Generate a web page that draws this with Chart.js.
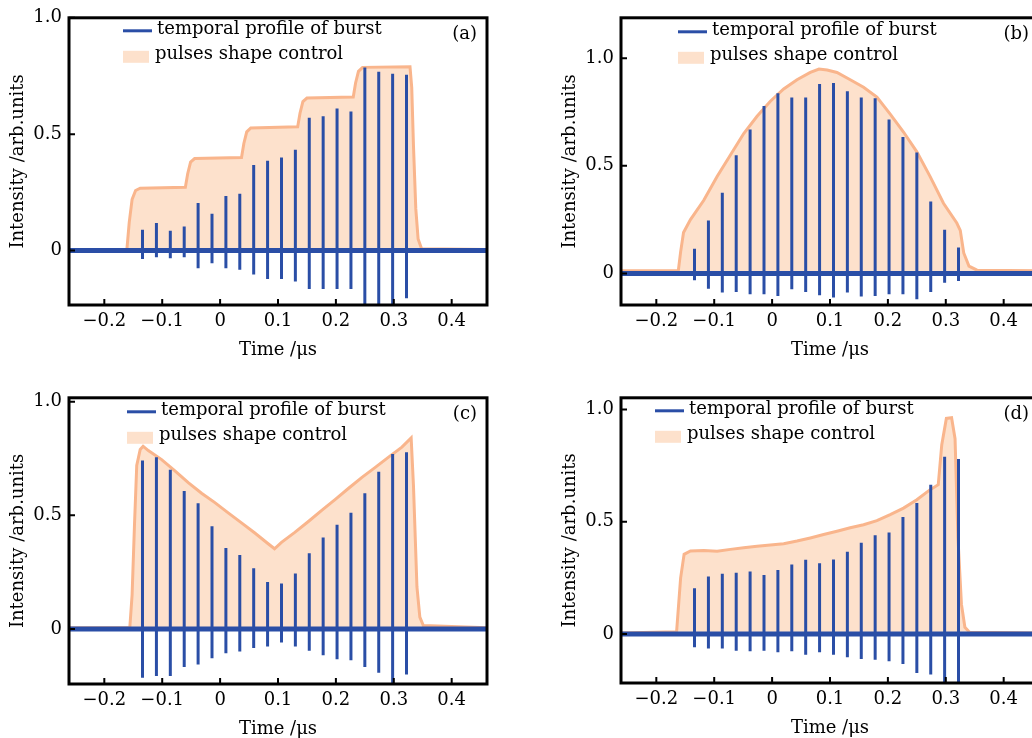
<!DOCTYPE html>
<html>
<head>
<meta charset="utf-8">
<script src="https://cdn.jsdelivr.net/npm/chart.js@4.4.1/dist/chart.umd.min.js"></script>
<style>
  html, body { margin: 0; padding: 0; background: #fff; overflow: hidden; width: 1032px; height: 738px; }
  .panel { position: absolute; }
</style>
</head>
<body>
<div class="panel" id="wrapA"><canvas id="chartA"></canvas></div>
<div class="panel" id="wrapB"><canvas id="chartB"></canvas></div>
<div class="panel" id="wrapC"><canvas id="chartC"></canvas></div>
<div class="panel" id="wrapD"><canvas id="chartD"></canvas></div>
<script>
// pulse arrival times in the burst (µs), same for all four panels
const pulseTimes = [-0.134, -0.110, -0.086, -0.062, -0.038, -0.014, 0.010, 0.034, 0.058, 0.082,
                    0.106, 0.130, 0.154, 0.178, 0.202, 0.226, 0.250, 0.274, 0.298, 0.322];

const xTicks = [-0.2, -0.1, 0, 0.1, 0.2, 0.3, 0.4];
const yTicks = [0, 0.5, 1.0];
const xMin = -0.261, xMax = 0.461;

// (a) staircase
const peaksA = [0.089, 0.118, 0.085, 0.103, 0.204, 0.158, 0.234, 0.244, 0.367, 0.386,
                0.400, 0.433, 0.571, 0.577, 0.610, 0.597, 0.786, 0.768, 0.760, 0.755];
const dipsA = [-0.036, -0.029, -0.033, -0.029, -0.076, -0.055, -0.076, -0.083, -0.103, -0.122,
               -0.122, -0.133, -0.165, -0.165, -0.165, -0.165, -0.235, -0.235, -0.240, -0.205];
const envTimeA = [-0.261, -0.161, -0.157, -0.152, -0.146, -0.138, -0.060, -0.056, -0.051, -0.044,
                  0.037, 0.041, 0.046, 0.053, 0.134, 0.138, 0.143, 0.150, 0.230, 0.234,
                  0.239, 0.246, 0.328, 0.331, 0.334, 0.338, 0.342, 0.348, 0.461];
const envLevelA = [0.005, 0.005, 0.12, 0.22, 0.258, 0.268, 0.272, 0.33, 0.38, 0.395,
                   0.40, 0.46, 0.51, 0.527, 0.532, 0.59, 0.64, 0.655, 0.66, 0.72,
                   0.77, 0.787, 0.79, 0.70, 0.45, 0.18, 0.05, 0.008, 0.005];

// (b) dome
const peaksB = [0.114, 0.246, 0.375, 0.549, 0.669, 0.778, 0.837, 0.818, 0.818, 0.880,
                0.885, 0.846, 0.818, 0.814, 0.715, 0.634, 0.562, 0.334, 0.203, 0.120];
const dipsB = [-0.032, -0.071, -0.089, -0.086, -0.097, -0.097, -0.105, -0.074, -0.086, -0.102,
               -0.112, -0.089, -0.108, -0.105, -0.097, -0.097, -0.120, -0.086, -0.043, -0.035];
const envTimeB = [-0.261, -0.162, -0.158, -0.153, -0.141, -0.118, -0.095, -0.072, -0.049, -0.026,
                  -0.003, 0.020, 0.043, 0.066, 0.081, 0.095, 0.112, 0.135, 0.158, 0.181,
                  0.204, 0.227, 0.250, 0.273, 0.296, 0.319, 0.325, 0.331, 0.340, 0.354, 0.461];
const envLevelB = [0.012, 0.012, 0.10, 0.19, 0.25, 0.34, 0.45, 0.55, 0.65, 0.73,
                   0.80, 0.857, 0.90, 0.934, 0.95, 0.945, 0.934, 0.90, 0.865, 0.82,
                   0.74, 0.657, 0.565, 0.45, 0.326, 0.234, 0.20, 0.095, 0.034, 0.015, 0.012];

// (c) V shape
const peaksC = [0.741, 0.756, 0.701, 0.607, 0.553, 0.452, 0.356, 0.326, 0.267, 0.207,
                0.200, 0.244, 0.333, 0.403, 0.458, 0.511, 0.597, 0.692, 0.770, 0.778];
const dipsC = [-0.215, -0.207, -0.207, -0.167, -0.156, -0.129, -0.107, -0.099, -0.084, -0.077,
               -0.059, -0.077, -0.096, -0.116, -0.133, -0.138, -0.167, -0.193, -0.245, -0.200];
const envTimeC = [-0.261, -0.156, -0.152, -0.148, -0.144, -0.138, -0.133, -0.124, -0.101, -0.078,
                  -0.055, -0.032, -0.009, 0.014, 0.037, 0.060, 0.083, 0.094, 0.106, 0.129,
                  0.153, 0.176, 0.199, 0.222, 0.245, 0.268, 0.291, 0.314, 0.330, 0.334,
                  0.340, 0.345, 0.351, 0.461];
const envLevelC = [0.005, 0.005, 0.15, 0.45, 0.72, 0.79, 0.804, 0.785, 0.745, 0.696,
                   0.644, 0.597, 0.556, 0.511, 0.467, 0.422, 0.375, 0.353, 0.381, 0.425,
                   0.474, 0.523, 0.570, 0.619, 0.667, 0.711, 0.756, 0.80, 0.84, 0.63,
                   0.185, 0.052, 0.015, 0.005];

// (d) rising ramp with final spike
const peaksD = [0.204, 0.256, 0.269, 0.273, 0.278, 0.263, 0.285, 0.310, 0.331, 0.315,
                0.332, 0.366, 0.406, 0.440, 0.452, 0.521, 0.583, 0.665, 0.790, 0.780];
const dipsD = [-0.059, -0.064, -0.064, -0.074, -0.077, -0.074, -0.081, -0.077, -0.092, -0.081,
               -0.092, -0.103, -0.111, -0.115, -0.121, -0.133, -0.174, -0.180, -0.225, -0.225];
const envTimeD = [-0.261, -0.165, -0.158, -0.152, -0.141, -0.118, -0.095, -0.072, -0.049, -0.026,
                  -0.003, 0.020, 0.043, 0.066, 0.089, 0.112, 0.135, 0.158, 0.181, 0.204,
                  0.227, 0.250, 0.273, 0.287, 0.293, 0.301, 0.310, 0.316, 0.321, 0.327,
                  0.333, 0.341, 0.461];
const envLevelD = [0.005, 0.01, 0.25, 0.355, 0.37, 0.372, 0.369, 0.377, 0.384, 0.391,
                   0.396, 0.402, 0.414, 0.428, 0.443, 0.458, 0.473, 0.487, 0.505, 0.532,
                   0.561, 0.598, 0.643, 0.665, 0.842, 0.96, 0.963, 0.87, 0.428, 0.133,
                   0.03, 0.008, 0.005];

const blue = '#2A4EA6';
const peachLine = '#F9B58C';
const peachFill = '#FDE1CC';

Chart.defaults.font.family = '"DejaVu Serif", serif';
Chart.defaults.font.size = 18;
Chart.defaults.color = '#000';

function burstPoints(peaks, dips) {
    const pts = [{ x: xMin, y: 0 }];
    pulseTimes.forEach((t, i) => {
        pts.push({ x: t, y: 0 }, { x: t, y: peaks[i] }, { x: t, y: dips[i] }, { x: t, y: 0 });
    });
    pts.push({ x: xMax, y: 0 });
    return pts;
}

function tickText(v) {
    if (v === 0) return '0';
    return v.toFixed(1).replace('-', '\u2212');
}

const framePlugin = {
    id: 'frame',
    afterDraw(chart, args, opts) {
        const { ctx, chartArea: a, scales: { x, y } } = chart;
        ctx.save();
        ctx.strokeStyle = '#000';
        ctx.lineWidth = 2;
        ctx.beginPath();
        xTicks.forEach(v => {
            const px = x.getPixelForValue(v);
            ctx.moveTo(px, a.bottom);
            ctx.lineTo(px, a.bottom - 6);
        });
        yTicks.forEach(v => {
            const py = y.getPixelForValue(v);
            ctx.moveTo(a.left, py);
            ctx.lineTo(a.left + 6, py);
        });
        ctx.stroke();
        ctx.lineWidth = 3;
        ctx.strokeRect(a.left, a.top, a.right - a.left, a.bottom - a.top);

        // legend inside the plot
        const ds = chart.data.datasets;
        const lx = a.left + opts.dx, ly = a.top + opts.dy;
        ctx.font = '18px "DejaVu Serif"';
        ctx.textBaseline = 'middle';
        ctx.strokeStyle = blue;
        ctx.lineWidth = 3;
        ctx.beginPath();
        ctx.moveTo(lx, ly);
        ctx.lineTo(lx + 29, ly);
        ctx.stroke();
        ctx.fillStyle = '#000';
        ctx.fillText(ds[0].label, lx + 34, ly - 1);
        ctx.fillStyle = peachFill;
        ctx.fillRect(lx, ly + 20, 26, 12);
        ctx.fillStyle = '#000';
        ctx.fillText(ds[2].label, lx + 32, ly + 24);
        ctx.textAlign = 'right';
        ctx.fillText(opts.tag, a.right - 10, a.top + 17);
        ctx.restore();
    }
};

const panels = [
    { id: 'A', tag: '(a)', area: [69, 16, 418, 289], yMin: -0.234, yMax: 1.0, peaks: peaksA, dips: dipsA, envT: envTimeA, envV: envLevelA, dx: 54, dy: 13 },
    { id: 'B', tag: '(b)', area: [621, 16, 418, 289], yMin: -0.147, yMax: 1.188, peaks: peaksB, dips: dipsB, envT: envTimeB, envV: envLevelB, dx: 57, dy: 14 },
    { id: 'C', tag: '(c)', area: [69, 396, 418, 288], yMin: -0.242, yMax: 1.017, peaks: peaksC, dips: dipsC, envT: envTimeC, envV: envLevelC, dx: 58, dy: 14 },
    { id: 'D', tag: '(d)', area: [621, 396, 418, 287], yMin: -0.218, yMax: 1.052, peaks: peaksD, dips: dipsD, envT: envTimeD, envV: envLevelD, dx: 34, dy: 13 }
];

const yAxisW = 64, xAxisH = 64, padTop = 16, padRight = 10;

panels.forEach(p => {
    const [L, T, W, H] = p.area;
    const wrap = document.getElementById('wrap' + p.id);
    const cw = W + yAxisW + padRight, ch = H + padTop + xAxisH;
    wrap.style.left = (L - yAxisW) + 'px';
    wrap.style.top = (T - padTop) + 'px';
    const canvas = document.getElementById('chart' + p.id);
    canvas.width = cw;
    canvas.height = ch;
    canvas.style.width = cw + 'px';
    canvas.style.height = ch + 'px';

    new Chart(canvas, {
        type: 'line',
        data: {
            datasets: [
                {
                    label: 'temporal profile of burst',
                    data: burstPoints(p.peaks, p.dips),
                    borderColor: blue,
                    borderWidth: 3,
                    pointRadius: 0,
                    fill: false
                },
                {
                    label: 'baseline',
                    data: [{ x: xMin, y: 0 }, { x: xMax, y: 0 }],
                    borderColor: blue,
                    borderWidth: 5,
                    pointRadius: 0,
                    fill: false
                },
                {
                    label: 'pulses shape control',
                    data: p.envT.map((t, i) => ({ x: t, y: p.envV[i] })),
                    borderColor: peachLine,
                    backgroundColor: peachFill,
                    borderWidth: 3,
                    pointRadius: 0,
                    fill: 'origin'
                }
            ]
        },
        plugins: [framePlugin],
        options: {
            responsive: false,
            animation: false,
            events: [],
            layout: { padding: { top: padTop, right: padRight, left: 0, bottom: 0 } },
            plugins: {
                legend: { display: false },
                tooltip: { enabled: false },
                frame: { dx: p.dx, dy: p.dy, tag: p.tag }
            },
            scales: {
                x: {
                    type: 'linear',
                    min: xMin,
                    max: xMax,
                    grid: { display: false, drawTicks: false },
                    border: { display: false },
                    afterBuildTicks: s => { s.ticks = xTicks.map(v => ({ value: v })); },
                    afterFit: s => { s.height = xAxisH; },
                    ticks: { autoSkip: false, maxRotation: 0, padding: 6, callback: v => tickText(v) },
                    title: { display: true, text: 'Time /\u03bcs', padding: { top: 0, bottom: 8 } }
                },
                y: {
                    min: p.yMin,
                    max: p.yMax,
                    grid: { display: false, drawTicks: false },
                    border: { display: false },
                    afterBuildTicks: s => { s.ticks = yTicks.map(v => ({ value: v })); },
                    afterFit: s => { s.width = yAxisW; },
                    ticks: { padding: 7, callback: v => tickText(v) },
                    title: { display: true, text: 'Intensity /arb.units', padding: { top: 3, bottom: 0 } }
                }
            }
        }
    });
});
</script>
</body>
</html>
